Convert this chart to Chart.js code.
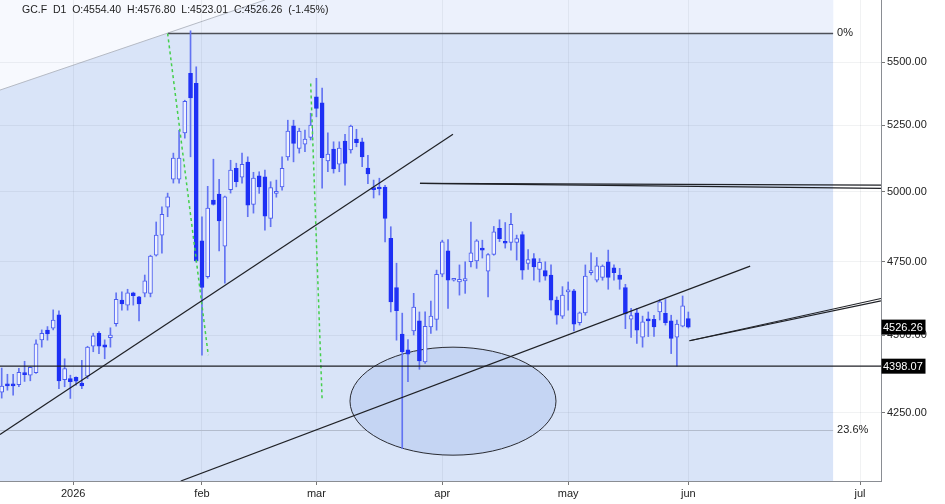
<!DOCTYPE html>
<html>
<head>
<meta charset="utf-8">
<script src="https://cdn.jsdelivr.net/npm/chart.js@4.4.1/dist/chart.umd.min.js"></script>
<style>
  html, body { margin: 0; padding: 0; background: #fff; }
  #wrap { width: 945px; height: 504px; }
</style>
</head>
<body>
<div id="wrap"><canvas id="chart" width="945" height="504"></canvas></div>
<script>
// daily OHLC, one entry per trading day (index 0 .. 120, last bar = 1 jun)
const opens = [4315,4340,4340,4339,4377,4369,4377,4484,4516,4523,4567,4355,4358,4362,4344,4366,4463,4506,4468,4491,
  4538,4617,4600,4642,4628,4641,4640,4772,4843,4944,5046,5046,5221,5455,5415,4823,4697,4969,4991,4804,
  5008,5087,5054,5110,4954,5059,5055,4903,4994,5018,5130,5248,5162,5178,5204,5361,5338,5115,5159,5102,
  5190,5156,5197,5187,5088,5015,5016,5017,4832,4660,4503,4451,4514,4547,4412,4527,4552,4706,4787,4685,
  4679,4683,4749,4752,4796,4716,4775,4867,4820,4817,4817,4845,4743,4760,4722,4718,4703,4617,4563,4645,
  4649,4541,4574,4711,4685,4695,4749,4728,4703,4660,4553,4574,4493,4553,4552,4577,4572,4547,4493,4529,4554.40];
const highs = [4392,4372,4372,4391,4414,4396,4484,4517,4528,4584,4581,4422,4369,4364,4417,4463,4506,4511,4484,4524,
  4642,4645,4654,4644,4630,4703,4772,4890,4945,4995,5144,5231,5348,5628,5481,4909,5020,5121,5046,4984,
  5117,5106,5144,5130,5072,5074,5080,5037,5043,5130,5270,5270,5239,5232,5297,5435,5396,5221,5187,5187,
  5216,5251,5235,5201,5136,5043,5050,5024,4873,4744,4573,4485,4640,4577,4577,4614,4720,4825,4827,4688,
  4738,4749,4890,4827,4825,4778,4874,4898,4888,4921,4843,4855,4792,4778,4760,4749,4738,4628,4663,4679,
  4654,4577,4738,4780,4764,4738,4790,4738,4726,4671,4589,4589,4563,4577,4566,4619,4619,4566,4550,4631,4576.80];
const lows = [4296,4321,4305,4332,4349,4351,4375,4460,4483,4517,4326,4332,4295,4337,4326,4358,4445,4439,4422,4460,
  4529,4583,4583,4600,4547,4628,4628,4769,4779,4909,5032,5032,5201,5130,4748,4434,4692,4951,4787,4675,
  4995,5018,5032,4909,4922,4994,4861,4873,4980,5006,5117,5111,5144,5149,5194,5283,5013,5074,5069,5074,
  5024,5144,5168,5093,5030,4977,4988,4819,4577,4483,4140,4348,4500,4388,4407,4505,4516,4697,4589,4682,
  4634,4640,4731,4726,4762,4628,4772,4820,4797,4790,4755,4688,4722,4685,4679,4685,4583,4536,4555,4583,
  4514,4533,4566,4703,4679,4685,4654,4685,4654,4521,4492,4472,4460,4495,4495,4550,4533,4439,4398,4527,4523.01];
const closes = [4334,4335,4335,4378,4371,4394,4471,4506,4504,4550,4351,4390,4348,4350,4335,4460,4497,4463,4460,4500,
  4620,4604,4642,4632,4604,4683,4769,4843,4918,4981,5125,5125,5344,5357,4752,4660,4940,4954,4894,4981,
  5080,5037,5102,4951,5050,5018,4911,5015,5000,5087,5228,5181,5228,5197,5251,5316,5127,5140,5085,5163,
  5105,5247,5184,5130,5066,5008,5010,4903,4611,4581,4445,4437,4593,4415,4529,4563,4705,4819,4685,4686,
  4688,4691,4780,4823,4790,4774,4855,4830,4814,4882,4831,4720,4757,4731,4747,4699,4617,4566,4634,4651,
  4536,4574,4699,4716,4735,4734,4695,4711,4688,4570,4565,4516,4544,4547,4527,4611,4541,4489,4536,4598,4526.26];

// axis ticks (x = bar index, future part in calendar days)
const tickIdx = [12.5, 35, 55, 77, 99, 120, 150];
const tickLabels = ["2026", "feb", "mar", "apr", "may", "jun", "jul"];
const priceTicks = [4250, 4500, 4750, 5000, 5250, 5500];

const lastClose = 4526.26;
const supportLevel = 4398.07;
const fibZero = 5618.5;
const fib236 = 4196;
const header = "GC.F  D1  O:4554.40  H:4576.80  L:4523.01  C:4526.26  (-1.45%)";

// drawn trend lines: [[index, price], [index, price]]
const blackLines = [
  [[-0.3, 4182.6], [78.87, 5216]],
  [[31.3, 4042], [130.8, 4734]],
  [[73.1, 5030.5], [153.67, 5024.5]],
  [[73.1, 5030.5], [153.67, 5012.5]],
  [[120.2, 4481], [153.67, 4622.5]],
  [[120.2, 4481], [153.67, 4614.5]],
  [[-0.3, supportLevel], [153.67, supportLevel]],
];
const greenLines = [
  [[29.0, 5617], [36.1, 4434]],
  [[54.0, 5414.5], [56.0, 4290]],
];
const fibStart = 29.06, fibEnd = 145.3;
const diagLine = [[-0.3, 5388], [46, 5757]];
const ellipse = { cx: 78.87, rx: 18.0, top: 4460, bottom: 4119.5 };

const FONT = '"Liberation Sans", Arial, sans-serif';
const bullFill = "#eef2fe", bullLine = "#4a5cf0";
const bearFill = "#1e30f5";
const wickColor = "#6273f2";

const lineSet = (seg, color, width, dash) => ({
  type: "line",
  data: seg.map(p => ({ x: p[0], y: p[1] })),
  borderColor: color,
  borderWidth: width,
  borderDash: dash || [],
  pointRadius: 0,
  fill: false,
  order: 0,
});

const backdrop = {
  id: "backdrop",
  beforeDraw(chart) {
    const { ctx, chartArea: a, scales: { x, y } } = chart;
    ctx.save();
    ctx.fillStyle = "#ffffff";
    ctx.fillRect(a.left, a.top, a.right - a.left, a.bottom - a.top);
    const xe = x.getPixelForValue(fibEnd);
    ctx.fillStyle = "#d9e4f8";
    ctx.fillRect(a.left, a.top, xe - a.left, a.bottom - a.top);
    const xs = x.getPixelForValue(fibStart);
    const yz = y.getPixelForValue(fibZero);
    ctx.fillStyle = "#ecf1fc";
    ctx.fillRect(xs, a.top, xe - xs, yz - a.top);
    // lighter wedge above the swing line
    const x1 = x.getPixelForValue(diagLine[0][0]), y1 = y.getPixelForValue(diagLine[0][1]);
    const x2 = x.getPixelForValue(diagLine[1][0]), y2 = y.getPixelForValue(diagLine[1][1]);
    ctx.fillStyle = "#f7f9fe";
    ctx.beginPath();
    ctx.moveTo(a.left, a.top);
    ctx.lineTo(x1, y1);
    ctx.lineTo(x2, y2);
    ctx.closePath();
    ctx.fill();
    ctx.strokeStyle = "#b5bac4";
    ctx.lineWidth = 1;
    ctx.beginPath();
    ctx.moveTo(x1, y1);
    ctx.lineTo(x2, y2);
    ctx.stroke();
    ctx.restore();
  },
  beforeDatasetsDraw(chart) {
    const { ctx, chartArea: a, scales: { x, y } } = chart;
    ctx.save();
    ctx.beginPath();
    ctx.rect(a.left, a.top, a.right - a.left, a.bottom - a.top);
    ctx.clip();
    // fib levels
    const xs = x.getPixelForValue(fibStart), xe = x.getPixelForValue(fibEnd);
    let yy = Math.round(y.getPixelForValue(fib236)) + 0.5;
    ctx.strokeStyle = "#b3bccd";
    ctx.lineWidth = 1;
    ctx.beginPath(); ctx.moveTo(a.left, yy); ctx.lineTo(xe, yy); ctx.stroke();
    yy = Math.round(y.getPixelForValue(fibZero)) + 0.5;
    ctx.strokeStyle = "#4d5058";
    ctx.lineWidth = 1.3;
    ctx.beginPath(); ctx.moveTo(xs, yy); ctx.lineTo(xe, yy); ctx.stroke();
    // ellipse
    const cx = x.getPixelForValue(ellipse.cx);
    const rx = x.getPixelForValue(ellipse.cx + ellipse.rx) - cx;
    const yt = y.getPixelForValue(ellipse.top), yb = y.getPixelForValue(ellipse.bottom);
    ctx.beginPath();
    ctx.ellipse(cx, (yt + yb) / 2, rx, (yb - yt) / 2, 0, 0, Math.PI * 2);
    ctx.fillStyle = "#c5d5f3";
    ctx.fill();
    ctx.strokeStyle = "#2a2c33";
    ctx.lineWidth = 1;
    ctx.stroke();
    ctx.restore();
  },
  afterDraw(chart) {
    const { ctx, chartArea: a, scales: { x, y } } = chart;
    ctx.save();
    ctx.font = "10.5px " + FONT;
    ctx.fillStyle = "#222";
    ctx.textBaseline = "middle";
    ctx.textAlign = "left";
    ctx.fillText(header, 22, 10);
    ctx.font = "11px " + FONT;
    const xl = x.getPixelForValue(fibEnd) + 4;
    ctx.fillText("0%", xl, y.getPixelForValue(fibZero));
    ctx.fillText("23.6%", xl, y.getPixelForValue(fib236));
    [lastClose, supportLevel].forEach(v => {
      const py = y.getPixelForValue(v);
      ctx.fillStyle = "#000";
      ctx.fillRect(a.right + 0.5, py - 7.5, 44, 15);
      ctx.fillStyle = "#fff";
      ctx.fillText(v.toFixed(2), a.right + 2, py + 0.5);
    });
    ctx.restore();
  },
};

const noPad = s => { s.paddingTop = 0; s.paddingBottom = 0; s.paddingLeft = 0; s.paddingRight = 0; };

new Chart(document.getElementById("chart"), {
  type: "bar",
  data: {
    datasets: [
      ...blackLines.map(s => lineSet(s, "#1f2126", 1.2)),
      ...greenLines.map(s => lineSet(s, "#45cf4c", 1.5, [3, 3])),
      {
        type: "bar",
        data: opens.map((o, i) => ({ x: i, y: [o, closes[i]] })),
        backgroundColor: opens.map((o, i) => (closes[i] >= o ? bullFill : bearFill)),
        borderColor: opens.map((o, i) => (closes[i] >= o ? bullLine : bearFill)),
        borderWidth: 1,
        borderSkipped: false,
        barThickness: 4,
        minBarLength: 2,
        grouped: false,
        order: 1,
      },
      {
        type: "bar",
        data: lows.map((l, i) => ({ x: i, y: [l, highs[i]] })),
        backgroundColor: wickColor,
        barThickness: 1,
        grouped: false,
        order: 2,
      },
    ],
  },
  options: {
    responsive: false,
    animation: false,
    devicePixelRatio: 1,
    layout: { padding: 0 },
    plugins: { legend: { display: false }, tooltip: { enabled: false } },
    scales: {
      x: {
        type: "linear",
        offset: false,
        min: -0.297,
        max: 153.67,
        grid: { offset: false, color: "rgba(60,70,90,0.07)", tickLength: 4, tickColor: "#777" },
        border: { color: "#8a8d93" },
        ticks: {
          autoSkip: false,
          maxRotation: 0,
          padding: 2,
          color: "#222",
          font: { family: FONT, size: 11 },
          callback: v => tickLabels[tickIdx.indexOf(v)],
        },
        afterBuildTicks: s => { s.ticks = tickIdx.map(v => ({ value: v })); },
        afterFit: s => { s.height = 23; noPad(s); },
      },
      y: {
        type: "logarithmic",
        position: "right",
        min: 4042,
        max: 5757,
        grid: { color: "rgba(60,70,90,0.07)", tickLength: 4, tickColor: "#777" },
        border: { color: "#8a8d93" },
        ticks: {
          padding: 2,
          color: "#222",
          font: { family: FONT, size: 11 },
          callback: v => Number(v).toFixed(2),
        },
        afterBuildTicks: s => { s.ticks = priceTicks.map(v => ({ value: v })); },
        afterFit: s => { s.width = 64; noPad(s); },
      },
    },
  },
  plugins: [backdrop],
});
</script>
</body>
</html>
